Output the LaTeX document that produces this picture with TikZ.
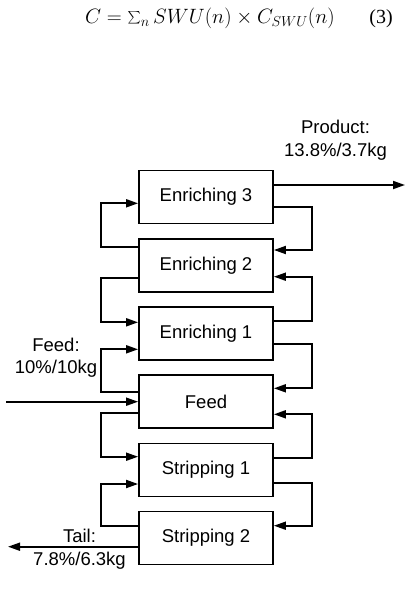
\documentclass[tikz,border=0pt]{standalone}
\usepackage{fontspec}
\setmainfont{Liberation Sans}
\newfontfamily\eqserif{Liberation Serif}
\usetikzlibrary{arrows.meta}
\newcommand{\bigsumsign}{\mathop{\vcenter{\hbox{\scalebox{1.25}{$\sum$}}}}\nolimits}
\begin{document}
\begin{tikzpicture}[x=1pt,y=-1pt,
  stage/.style={draw,line width=1.8pt,minimum width=134pt,minimum height=53pt,inner sep=0pt,font=\fontsize{18.5}{22}\selectfont},
  flow/.style={line width=1.8pt,-{Triangle[length=12pt,width=8pt]}},
  lab/.style={font=\fontsize{18.5}{22.3}\selectfont,align=center,inner sep=0pt}]
\useasboundingbox (0,0) rectangle (412,598);
\node[inner sep=0pt,anchor=base west] (eq) at (85,23.5) {\fontsize{21}{24}\selectfont$C=\bigsumsign_{n} SWU(n)\times C_{SWU}(n)$};
\node[inner sep=0pt,anchor=base east] (eqn) at (393,23.5) {\fontsize{20}{24}\selectfont\eqserif (3)};
\node[stage] (e3) at (206,197) {Enriching 3};
\node[stage] (e2) at (206,265.3) {Enriching 2};
\node[stage] (e1) at (206,333.5) {Enriching 1};
\node[stage] (fd) at (206,401.7) {Feed};
\node[stage] (s1) at (206,470) {Stripping 1};
\node[stage] (s2) at (206,538) {Stripping 2};
\coordinate (pout) at (405,185);
\coordinate (fin) at (6,401.7);
\coordinate (tout) at (8,546.7);
% product, feed, tail
\draw[flow] ([yshift=12pt]e3.east) -- (pout);
\draw[flow] (fin) -- (fd.west);
\draw[flow] ([yshift=-8.7pt]s2.west) -- (tout);
% downward flows
\draw[flow] ([yshift=-10.3pt]e3.east) -- ++(37.7,0) |- ([yshift=15.3pt]e2.east);
\draw[flow] ([yshift=-13pt]e2.west) -- ++(-37,0) |- ([yshift=11.2pt]e1.west);
\draw[flow] ([yshift=-10.8pt]e1.east) -- ++(37.7,0) |- ([yshift=13.4pt]fd.east);
\draw[flow] ([yshift=-11pt]fd.west) -- ++(-37,0) |- ([yshift=13.3pt]s1.west);
\draw[flow] ([yshift=-12.7pt]s1.east) -- ++(37.7,0) |- ([yshift=12.3pt]s2.east);
% upward flows
\draw[flow] ([yshift=18.6pt]e2.west) -- ++(-37,0) |- ([yshift=-6.3pt]e3.west);
\draw[flow] ([yshift=12.8pt]e1.east) -- ++(37.7,0) |- ([yshift=-11.4pt]e2.east);
\draw[flow] ([yshift=9.4pt]fd.west) -- ++(-37,0) |- ([yshift=-15.8pt]e1.west);
\draw[flow] ([yshift=11.7pt]s1.east) -- ++(37.7,0) |- ([yshift=-12.6pt]fd.east);
\draw[flow] ([yshift=12.3pt]s2.west) -- ++(-37,0) |- ([yshift=-14pt]s1.west);
% labels
\node[lab,anchor=base] (pl) at (335.5,156) {Product:\\13.8\%/3.7kg};
\node[lab,anchor=base] (fl) at (56,373.3) {Feed:\\10\%/10kg};
\node[lab,anchor=base] (tl) at (79.5,565) {Tail:\\7.8\%/6.3kg};
\end{tikzpicture}
\end{document}
